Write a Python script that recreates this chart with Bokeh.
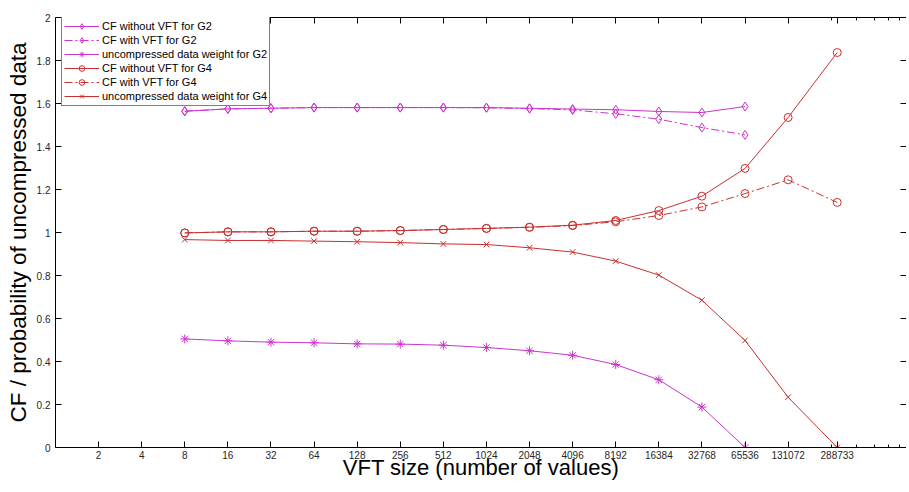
from bokeh.plotting import figure
from bokeh.models import (Range1d, FixedTicker, LogAxis, LinearAxis, Legend, LegendItem,
                          CustomJSTickFormatter)
from bokeh.embed import file_html
from bokeh.resources import INLINE

# ---- data ----
tick_sizes = [2, 4, 8, 16, 32, 64, 128, 256, 512, 1024, 2048, 4096, 8192,
              16384, 32768, 65536, 131072, 288733]
tick_labels = ["2", "4", "8", "16", "32", "64", "128", "256", "512", "1024", "2048",
               "4096", "8192", "16384", "32768", "65536", "131072", "288733"]
minor_multiples = [2, 3, 4, 5, 6, 7, 8, 9]
minor_base = 131072

sizes_g2 = [8, 16, 32, 64, 128, 256, 512, 1024, 2048, 4096, 8192, 16384, 32768, 65536]
cf_g2_no_vft = [1.564, 1.575, 1.578, 1.581, 1.581, 1.581, 1.581, 1.581, 1.578, 1.574,
                1.571, 1.563, 1.558, 1.586]
cf_g2_vft = [1.564, 1.575, 1.578, 1.581, 1.581, 1.581, 1.581, 1.580, 1.576, 1.570,
             1.552, 1.527, 1.488, 1.454]
weight_g2 = [0.505, 0.496, 0.490, 0.487, 0.482, 0.481, 0.476, 0.465, 0.450, 0.429,
             0.386, 0.315, 0.188, 0.0]

sizes_g4 = [8, 16, 32, 64, 128, 256, 512, 1024, 2048, 4096, 8192, 16384, 32768, 65536,
            131072, 288733]
cf_g4_no_vft = [0.998, 1.003, 1.003, 1.006, 1.006, 1.009, 1.014, 1.019, 1.025, 1.034,
                1.056, 1.102, 1.169, 1.298, 1.535, 1.837]
cf_g4_vft = [0.998, 1.003, 1.003, 1.006, 1.006, 1.009, 1.014, 1.019, 1.024, 1.032,
             1.050, 1.079, 1.119, 1.181, 1.245, 1.140]
weight_g4 = [0.967, 0.963, 0.963, 0.960, 0.957, 0.953, 0.947, 0.944, 0.929, 0.909,
             0.867, 0.802, 0.685, 0.498, 0.234, 0.0]

y_ticks = [0, 0.2, 0.4, 0.6, 0.8, 1, 1.2, 1.4, 1.6, 1.8, 2]
y_labels = ["0", "0.2", "0.4", "0.6", "0.8", "1", "1.2", "1.4", "1.6", "1.8", "2"]

MAGENTA = "#cc33cc"
RED = "#c83030"
FONT = "Liberation Sans"

p = figure(frame_width=851, frame_height=430, x_axis_type="log",
           x_range=Range1d(1, 8.8e5), y_range=Range1d(0, 2),
           output_backend="svg", toolbar_location=None,
           min_border_left=55, min_border_top=17, min_border_right=0, min_border_bottom=0)
p.outline_line_color = None
p.xgrid.visible = False
p.ygrid.visible = False
p.background_fill_color = "white"
p.border_fill_color = "white"

x_ticker = FixedTicker(ticks=tick_sizes, minor_ticks=[m * minor_base for m in minor_multiples])
y_ticker = FixedTicker(ticks=y_ticks)
blank = CustomJSTickFormatter(code="return ''")


def style_axis(ax, show_labels=True):
    ax.axis_line_color = "black"
    ax.axis_line_width = 1
    ax.major_tick_in = 6
    ax.major_tick_out = 0
    ax.minor_tick_in = 3
    ax.minor_tick_out = 0
    ax.major_tick_line_color = "black"
    ax.minor_tick_line_color = "black"
    ax.major_label_text_font = FONT
    ax.major_label_text_color = "#262626"
    ax.major_label_text_font_size = "10px"
    if not show_labels:
        ax.formatter = blank
        ax.major_label_standoff = 0
    ax.axis_label_text_font = FONT
    ax.axis_label_text_font_style = "normal"
    ax.axis_label_text_color = "black"


xb = p.xaxis[0]
xb.ticker = x_ticker
xb.major_label_overrides = {v: l for v, l in zip(tick_sizes, tick_labels)}
style_axis(xb)
xb.major_label_standoff = 3
xb.axis_label = "VFT size (number of values)"
xb.axis_label_text_font_size = "22px"
xb.axis_label_standoff = -7

yl = p.yaxis[0]
yl.ticker = y_ticker
yl.major_label_overrides = {v: l for v, l in zip(y_ticks, y_labels)}
style_axis(yl)
yl.minor_tick_in = 0
yl.major_label_standoff = 5
yl.axis_label = "CF / probability of uncompressed data"
yl.axis_label_text_font_size = "22.5px"
yl.axis_label_standoff = 3

top = LogAxis(ticker=x_ticker)
style_axis(top, show_labels=False)
p.add_layout(top, "above")

right = LinearAxis(ticker=y_ticker)
style_axis(right, show_labels=False)
right.axis_line_color = None
right.minor_tick_in = 0
p.add_layout(right, "right")

DASHDOT = "8 3 2 3"

series = [
    ("CF without VFT for G2", sizes_g2, cf_g2_no_vft, MAGENTA, "solid", "diamond", 9),
    ("CF with VFT for G2", sizes_g2, cf_g2_vft, MAGENTA, DASHDOT, "diamond", 9),
    ("uncompressed data weight for G2", sizes_g2, weight_g2, MAGENTA, "solid", "asterisk", 9),
    ("CF without VFT for G4", sizes_g4, cf_g4_no_vft, RED, "solid", "circle", 8),
    ("CF with VFT for G4", sizes_g4, cf_g4_vft, RED, DASHDOT, "circle", 8),
    ("uncompressed data weight for G4", sizes_g4, weight_g4, RED, "solid", "x", 8),
]

items = []
for label, xs, ys, color, dash, marker, msize in series:
    lr = p.line(xs, ys, line_color=color, line_width=1, line_dash=dash)
    sr = p.scatter(xs, ys, marker=marker, size=msize, line_color=color,
                   fill_color=None, line_width=1)
    items.append(LegendItem(label=label, renderers=[lr, sr]))

legend = Legend(items=items, location=(6, 341))
legend.border_line_color = "black"
legend.border_line_width = 1
legend.background_fill_color = "white"
legend.background_fill_alpha = 1
legend.label_text_font = FONT
legend.label_text_font_size = "11px"
legend.label_text_color = "black"
legend.glyph_width = 35
legend.glyph_height = 14
legend.label_height = 14
legend.spacing = 0
legend.padding = 2
legend.margin = 0
legend.label_standoff = 3
p.add_layout(legend)

open("out.html", "w").write(file_html(p, INLINE))
